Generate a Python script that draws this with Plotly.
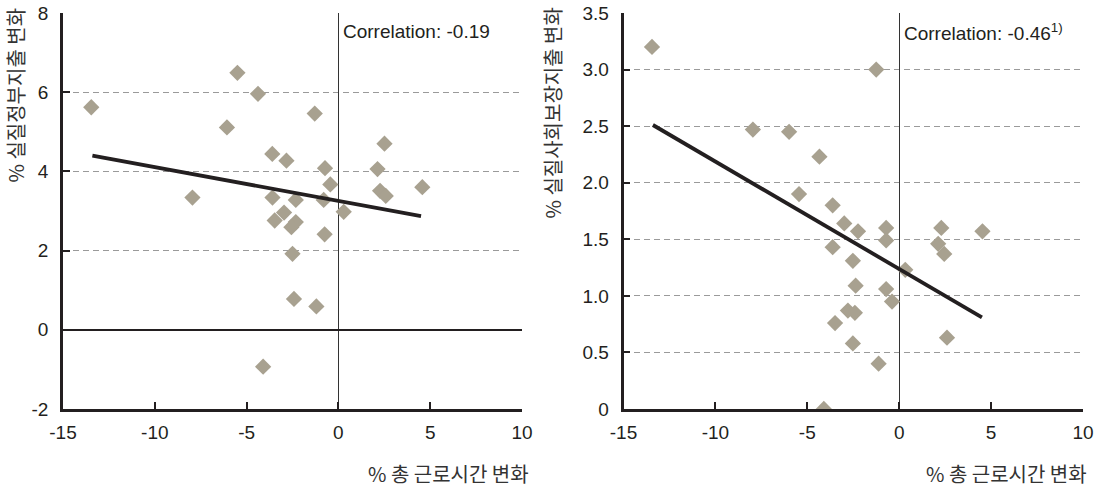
import plotly.graph_objects as go

# ---- data ----
hours_left = [-13.46, -7.95, -6.07, -5.5, -4.38, -4.1, -3.6, -3.59, -3.47, -2.96,
              -2.83, -2.32, -2.32, -2.56, -2.50, -2.42, -1.29, -1.2, -0.75, -0.80,
              -0.73, -0.44, 0.29, 2.13, 2.51, 2.27, 2.58, 4.57]
gov_spend = [5.62, 3.34, 5.11, 6.49, 5.96, -0.93, 4.44, 3.34, 2.76, 2.96,
             4.27, 3.28, 2.72, 2.59, 1.92, 0.78, 5.46, 0.59, 2.41, 3.28,
             4.08, 3.67, 2.98, 4.06, 4.70, 3.51, 3.38, 3.60]

hours_right = [-13.45, -7.96, -5.99, -4.34, -5.45, -3.62, -2.99, -2.24, -3.62, -2.52,
               -2.37, -2.79, -2.41, -3.49, -2.52, -4.1, -1.25, -0.71, -0.71, -0.71,
               -0.39, -1.12, 0.33, 2.29, 2.12, 2.45, 2.6, 4.53]
soc_spend = [3.20, 2.47, 2.45, 2.23, 1.90, 1.80, 1.64, 1.57, 1.43, 1.31,
             1.09, 0.87, 0.85, 0.76, 0.58, 0.0, 3.0, 1.60, 1.49, 1.06,
             0.95, 0.40, 1.23, 1.60, 1.46, 1.37, 0.63, 1.57]

trend_x = [-13.4, 4.5]
trend_left = [4.40, 2.87]
trend_right = [2.51, 0.81]

x_ticks = [-15, -10, -5, 0, 5, 10]
x_ticktext = ["-15", "-10", "-5", "0", "5", "10"]
left_yticks = [-2, 0, 2, 4, 6, 8]
left_yticktext = ["-2", "0", "2", "4", "6", "8"]
right_yticks = [0, 0.5, 1.0, 1.5, 2.0, 2.5, 3.0, 3.5]
right_yticktext = ["0", "0.5", "1.0", "1.5", "2.0", "2.5", "3.0", "3.5"]

corr_left = "Correlation: -0.19"
corr_right = "Correlation: -0.46<sup>1)</sup>"
x_title = "% 총 근로시간 변화"
y_title_left = "% 실질정부지출 변화"
y_title_right = "% 실질사회보장지출 변화"

# ---- style ----
MARK = "#a8a190"
INK = "#231f20"
GRID = "#9a9a9a"
NUMFONT = dict(family="Liberation Sans, Arial, sans-serif", size=19, color=INK)
KRFONT = dict(family="Noto Sans CJK KR, sans-serif", size=20, color="#333333")

fig = go.Figure()

fig.add_trace(go.Scatter(x=hours_left, y=gov_spend, mode="markers",
                         marker=dict(symbol="diamond", size=12.5, color=MARK),
                         xaxis="x", yaxis="y", showlegend=False))
fig.add_trace(go.Scatter(x=trend_x, y=trend_left, mode="lines",
                         line=dict(color=INK, width=3.8),
                         xaxis="x", yaxis="y", showlegend=False))
fig.add_trace(go.Scatter(x=hours_right, y=soc_spend, mode="markers",
                         marker=dict(symbol="diamond", size=12.5, color=MARK),
                         xaxis="x2", yaxis="y2", showlegend=False))
fig.add_trace(go.Scatter(x=trend_x, y=trend_right, mode="lines",
                         line=dict(color=INK, width=3.8),
                         xaxis="x2", yaxis="y2", showlegend=False))

xcommon = dict(range=[-15, 10], tickvals=x_ticks, ticktext=x_ticktext,
               ticks="inside", ticklen=7,
               tickwidth=2, tickcolor=INK, showline=True, linecolor=INK,
               linewidth=2.5, showgrid=False, zeroline=True, zerolinecolor="#333333",
               zerolinewidth=1, tickfont=NUMFONT, ticklabelstandoff=4,
               automargin=False, fixedrange=True)
ycommon = dict(ticks="inside", ticklen=7, tickwidth=2, tickcolor=INK,
               showline=True, linecolor=INK, linewidth=2.5, showgrid=True,
               gridcolor=GRID, gridwidth=1.2, griddash="6px,4px",
               tickfont=NUMFONT, ticklabelstandoff=8, automargin=False,
               fixedrange=True)

pw = 1020.0
fig.update_layout(
    width=1096, height=491,
    margin=dict(l=63, r=13, t=13, b=82),
    paper_bgcolor="white", plot_bgcolor="white",
    xaxis=dict(domain=[0, 459 / pw], anchor="y", **xcommon),
    yaxis=dict(domain=[0, 1], anchor="x", range=[-2, 8], tickvals=left_yticks,
               ticktext=left_yticktext,
               zeroline=True, zerolinecolor=INK, zerolinewidth=2.2, **ycommon),
    xaxis2=dict(domain=[560.5 / pw, 1], anchor="y2", **xcommon),
    yaxis2=dict(domain=[0, 1], anchor="x2", range=[0, 3.5], tickvals=right_yticks,
                ticktext=right_yticktext, zeroline=False, **ycommon),
)

def px_x(p):
    return (p - 63) / pw

def px_y(p):
    return 1 - (p - 13) / 396.0

CORRFONT = dict(family="Liberation Sans, Arial, sans-serif", size=19, color=INK)
annos = [
    dict(text=corr_left, xref="x", x=0, xanchor="left", xshift=3,
         yref="paper", y=px_y(31.5), yanchor="middle", showarrow=False, font=CORRFONT),
    dict(text=corr_right, xref="x2", x=0, xanchor="left", xshift=3,
         yref="paper", y=px_y(31.5), yanchor="middle", showarrow=False, font=CORRFONT),
    dict(text=x_title, xref="paper", x=px_x(531), xanchor="right",
         yref="paper", y=px_y(473), yanchor="middle", showarrow=False, font=KRFONT),
    dict(text=x_title, xref="paper", x=px_x(1089), xanchor="right",
         yref="paper", y=px_y(473), yanchor="middle", showarrow=False, font=KRFONT),
    dict(text=y_title_left, textangle=-90, xref="paper", x=px_x(15), xanchor="center",
         yref="paper", y=px_y(6), yanchor="top", showarrow=False, font=KRFONT),
    dict(text=y_title_right, textangle=-90, xref="paper", x=px_x(552), xanchor="center",
         yref="paper", y=px_y(6), yanchor="top", showarrow=False, font=KRFONT),
]
fig.update_layout(annotations=annos)

fig.write_html("out.html", config={"displayModeBar": False},
               post_script="document.body.style.margin='0px';")
